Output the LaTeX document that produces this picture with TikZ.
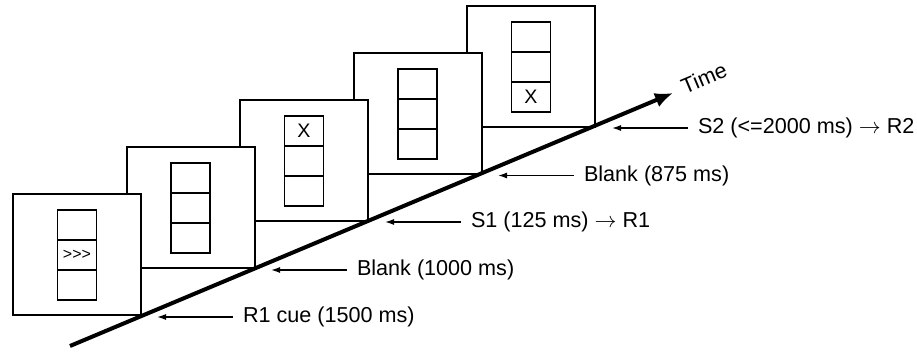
\documentclass[tikz,border=0pt]{standalone}
\usepackage{fontspec}
\setmainfont{Liberation Sans}
\usetikzlibrary{positioning,arrows.meta}
\newcommand{\drawscreen}[5]{%
  \node[screen] (#1) at (#2) {};
  \node[cell] (#1a) [below=8pt of #1.north] {#3};
  \node[cell] (#1b) [below=0pt of #1a] {#4};
  \node[cell] (#1c) [below=0pt of #1b] {#5}; }
\newcommand{\tmark}[3]{%
  \coordinate (#1) at (#2);
  \node[lab] (#1l) [right=38pt of #1] {#3};
  \draw[pointer] (#1l) -- (#1); }

\begin{document}
\begin{tikzpicture}[x=0.5pt,y=-0.5pt,>={Latex[length=4.5pt,width=3pt]},
  screen/.style={draw,line width=1pt,fill=white,minimum width=64pt,minimum height=60.5pt,inner sep=0pt,outer sep=0pt},
  cell/.style={draw,line width=0.9pt,minimum width=19.5pt,minimum height=15pt,inner sep=0pt,outer sep=0pt,font=\fontsize{9.8}{11}\selectfont},
  lab/.style={inner xsep=5pt,inner ysep=0pt,outer sep=0pt,font=\fontsize{10.8}{13}\selectfont},
  pointer/.style={->,line width=0.7pt},
  timeline/.style={-{Latex[length=9pt,width=7.5pt]},line width=2pt}]
  \useasboundingbox (0,0) rectangle (917,352);
  % screens, last one at the back
  \drawscreen{s5}{531,66.5}{}{}{X}
  \drawscreen{s4}{417.5,113.5}{}{}{}
  \drawscreen{s3}{304,160.5}{X}{}{}
  \drawscreen{s2}{190.5,207.5}{}{}{}
  \drawscreen{s1}{77,254.5}{}{\fontsize{8}{9}\selectfont >{}>{}>}{}
  % time axis
  \coordinate (t0) at (70,346);
  \coordinate (tend) at (673,93);
  \draw[timeline] (t0) -- (tend);
  \node[rotate=22.8,inner sep=0pt,font=\fontsize{10.8}{13}\selectfont] (time) at (704,78) {Time};
  % events
  \tmark{t1}{157,317}{R1 cue (1500 ms)}
  \tmark{t2}{271,270}{Blank (1000 ms)}
  \tmark{t3}{385,222}{S1 (125 ms) $\rightarrow$ R1}
  \tmark{t4}{498,175.5}{Blank (875 ms)}
  \tmark{t5}{612,128}{S2 (<=2000 ms) $\rightarrow$ R2}
\end{tikzpicture}
\end{document}
